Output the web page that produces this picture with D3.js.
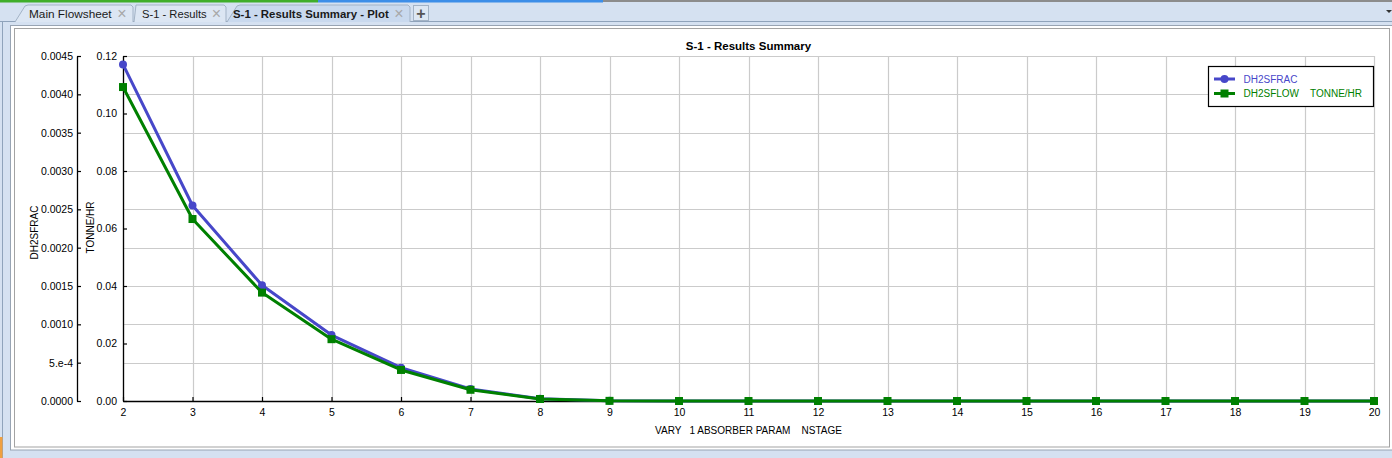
<!DOCTYPE html>
<html>
<head>
<meta charset="utf-8">
<script src="https://cdn.jsdelivr.net/npm/d3@7/dist/d3.min.js"></script>
<style>
  html, body { margin: 0; padding: 0; background: #d5e1f1; }
  svg { display: block; font-family: "Liberation Sans", Arial, sans-serif; }
</style>
</head>
<body>
<svg id="chart" width="1392" height="458"></svg>
<script>
// ---------- data ----------
const stages = [2, 3, 4, 5, 6, 7, 8, 9, 10, 11, 12, 13, 14, 15, 16, 17, 18, 19, 20];
const dh2sfrac = [0.00439, 0.00255, 0.00151, 0.00086, 0.000435, 0.000157, 0.00003, 0.000002, 0, 0, 0, 0, 0, 0, 0, 0, 0, 0, 0];
const dh2sflow = [0.1092, 0.0633, 0.0377, 0.0215, 0.0108, 0.0039, 0.0007, 0.00005, 0, 0, 0, 0, 0, 0, 0, 0, 0, 0, 0];
const leftTicks = [0, 0.0005, 0.0010, 0.0015, 0.0020, 0.0025, 0.0030, 0.0035, 0.0040, 0.0045];
const leftTickLabels = ["0.0000", "5.e-4", "0.0010", "0.0015", "0.0020", "0.0025", "0.0030", "0.0035", "0.0040", "0.0045"];
const rightTicks = [0, 0.02, 0.04, 0.06, 0.08, 0.10, 0.12];
const rightTickLabels = ["0.00", "0.02", "0.04", "0.06", "0.08", "0.10", "0.12"];
const tabs = ["Main Flowsheet", "S-1 - Results", "S-1 - Results Summary - Plot"];
const chartTitle = "S-1 - Results Summary";
const xTitle = "VARY   1 ABSORBER PARAM    NSTAGE";
const leftTitle = "DH2SFRAC";
const rightTitle = "TONNE/HR";
const seriesNames = ["DH2SFRAC", "DH2SFLOW    TONNE/HR"];

const BLUE = "#4747c9", GREEN = "#008000", GRID = "#cbcbcb";

const svg = d3.select("#chart");

// ---------- window chrome ----------
svg.append("rect").attr("x", 0).attr("y", 0).attr("width", 1392).attr("height", 458).attr("fill", "#d5e1f1");
svg.append("rect").attr("x", 0).attr("y", 0).attr("width", 1392).attr("height", 2).attr("fill", "#8c8c8c");
svg.append("rect").attr("x", 0).attr("y", 0).attr("width", 318).attr("height", 2.5).attr("fill", "#3fae2a");
svg.append("rect").attr("x", 318).attr("y", 0).attr("width", 285).attr("height", 2.5).attr("fill", "#3d8ee8");
svg.append("line").attr("x1", 0).attr("x2", 1392).attr("y1", 21.5).attr("y2", 21.5).attr("stroke", "#8fa3bb");
svg.append("line").attr("x1", 2.5).attr("x2", 2.5).attr("y1", 22).attr("y2", 458).attr("stroke", "#8fa3bb");
svg.append("rect").attr("x", 0).attr("y", 437).attr("width", 2.5).attr("height", 21).attr("fill", "#f0a040");

// tabs
const tabG = svg.append("g");
const tabShapes = [
  { x0: 15, x1: 133, active: false },
  { x0: 134, x1: 226, active: false },
  { x0: 227, x1: 410, active: true }
];
tabShapes.forEach((t, i) => {
  const p = d3.path();
  p.moveTo(t.x0, 22);
  if (i === 1) { p.lineTo(t.x0 + 2, 5); } else { p.lineTo(t.x0 + 10, 6); p.lineTo(t.x0 + 13, 5); }
  p.lineTo(t.x1 - 2, 5);
  p.lineTo(t.x1, 7);
  p.lineTo(t.x1, 22);
  tabG.append("path").attr("d", p.toString())
    .attr("fill", t.active ? "#c9d9ee" : "#dce6f3")
    .attr("stroke", "#a3b3c6");
});
const tabTextX = [29, 142, 233];
const tabFontSize = [11.8, 11.2, 11.4];
const closeX = [122, 216.5, 399];
tabs.forEach((t, i) => {
  tabG.append("text").attr("x", tabTextX[i]).attr("y", 17.5)
    .attr("font-size", tabFontSize[i])
    .attr("font-weight", i === 2 ? "bold" : "normal")
    .attr("fill", "#1a1a1a").text(t);
  tabG.append("text").attr("x", closeX[i]).attr("y", 18.5).attr("text-anchor", "middle")
    .attr("font-size", 16).attr("fill", "#a8a8a8").text("\u00d7");
});
tabG.append("rect").attr("x", 413.5).attr("y", 5.5).attr("width", 15).attr("height", 15)
  .attr("fill", "#dde7f3").attr("stroke", "#a3b3c6");
tabG.append("text").attr("x", 421).attr("y", 18.5).attr("text-anchor", "middle")
  .attr("font-size", 16).attr("font-weight", "bold").attr("fill", "#555").text("+");
tabG.append("path").attr("d", "M1386,10 L1392,10 L1389,13 Z").attr("fill", "#333");

// panel frames
svg.append("rect").attr("x", 10.5).attr("y", 25.5).attr("width", 1385).attr("height", 424.5)
  .attr("fill", "#ffffff").attr("stroke", "#98a4b3");
svg.append("rect").attr("x", 14.5).attr("y", 28.5).attr("width", 1375).attr("height", 418.5)
  .attr("fill", "#ffffff").attr("stroke", "#a3a3a3");

// ---------- scales ----------
const x = d3.scaleLinear().domain([2, 20]).range([123, 1374]);
const yL = d3.scaleLinear().domain([0, 0.0045]).range([401, 56]);
const yR = d3.scaleLinear().domain([0, 0.12]).range([401, 56]);

// grid
const grid = svg.append("g");
grid.selectAll("line.h").data(leftTicks).join("line")
  .attr("x1", x(2)).attr("x2", x(20))
  .attr("y1", d => Math.round(yL(d)) + 0.5).attr("y2", d => Math.round(yL(d)) + 0.5)
  .attr("stroke", GRID).attr("stroke-width", 1.2);
grid.selectAll("line.v").data(stages).join("line")
  .attr("x1", d => Math.round(x(d)) + 0.5).attr("x2", d => Math.round(x(d)) + 0.5)
  .attr("y1", yL(0.0045)).attr("y2", yL(0))
  .attr("stroke", GRID).attr("stroke-width", 1.2);

// ---------- axes ----------
function styleAxis(g, size) {
  g.attr("font-family", "\"Liberation Sans\", Arial, sans-serif").attr("font-size", size);
  g.selectAll("path.domain").attr("stroke", "#000").attr("stroke-width", 1.3);
  g.selectAll(".tick line").attr("stroke", "#000").attr("stroke-width", 1.2);
  g.selectAll(".tick text").attr("fill", "#000");
}

const axLeft = svg.append("g").attr("transform", "translate(77,0)")
  .call(d3.axisLeft(yL).tickValues(leftTicks).tickFormat((d, i) => leftTickLabels[i])
    .tickSizeInner(-4).tickSizeOuter(0).tickPadding(4));
styleAxis(axLeft, 10.5);

const axRight = svg.append("g").attr("transform", "translate(123,0)")
  .call(d3.axisLeft(yR).tickValues(rightTicks).tickFormat((d, i) => rightTickLabels[i])
    .tickSizeInner(-4).tickSizeOuter(0).tickPadding(6));
styleAxis(axRight, 10.5);

const axBottom = svg.append("g").attr("transform", "translate(0,401)")
  .call(d3.axisBottom(x).tickValues(stages).tickFormat(d3.format("d"))
    .tickSizeInner(-4).tickSizeOuter(0).tickPadding(8));
styleAxis(axBottom, 10.5);

// titles
svg.append("text").attr("x", x(11)).attr("y", 50).attr("text-anchor", "middle")
  .attr("font-size", 11.5).attr("font-weight", "bold").attr("fill", "#000").text(chartTitle);
svg.append("text").attr("x", x(11)).attr("y", 434).attr("text-anchor", "middle")
  .attr("font-size", 10).attr("fill", "#000").style("white-space", "pre").text(xTitle);
svg.append("text").attr("transform", "translate(37.7,232.5) rotate(-90)").attr("text-anchor", "middle")
  .attr("font-size", 10).attr("fill", "#000").text(leftTitle);
svg.append("text").attr("transform", "translate(94,227.5) rotate(-90)").attr("text-anchor", "middle")
  .attr("font-size", 10).attr("fill", "#000").text(rightTitle);

// ---------- series ----------
const blueData = stages.map((s, i) => [s, dh2sfrac[i]]);
const greenData = stages.map((s, i) => [s, dh2sflow[i]]);

svg.append("path").datum(blueData)
  .attr("d", d3.line().x(d => x(d[0])).y(d => yL(d[1])))
  .attr("fill", "none").attr("stroke", BLUE).attr("stroke-width", 3).attr("stroke-linejoin", "round");
svg.selectAll("circle.b").data(blueData).join("circle")
  .attr("cx", d => x(d[0])).attr("cy", d => yL(d[1])).attr("r", 4).attr("fill", BLUE);

svg.append("path").datum(greenData)
  .attr("d", d3.line().x(d => x(d[0])).y(d => yR(d[1])))
  .attr("fill", "none").attr("stroke", GREEN).attr("stroke-width", 3).attr("stroke-linejoin", "round");
svg.selectAll("rect.g").data(greenData).join("rect")
  .attr("x", d => x(d[0]) - 4).attr("y", d => yR(d[1]) - 4).attr("width", 8).attr("height", 8).attr("fill", GREEN);

// ---------- legend ----------
const lg = svg.append("g");
lg.append("rect").attr("x", 1208.5).attr("y", 66.5).attr("width", 165).attr("height", 40)
  .attr("fill", "#fff").attr("stroke", "#000").attr("stroke-width", 1.2);
lg.append("line").attr("x1", 1214).attr("x2", 1235).attr("y1", 79).attr("y2", 79)
  .attr("stroke", BLUE).attr("stroke-width", 3);
lg.append("circle").attr("cx", 1224.5).attr("cy", 79).attr("r", 4).attr("fill", BLUE);
lg.append("line").attr("x1", 1214).attr("x2", 1235).attr("y1", 93.5).attr("y2", 93.5)
  .attr("stroke", GREEN).attr("stroke-width", 3);
lg.append("rect").attr("x", 1220.5).attr("y", 89.5).attr("width", 8).attr("height", 8).attr("fill", GREEN);
lg.append("text").attr("x", 1243.5).attr("y", 82.5).attr("font-size", 10).attr("fill", BLUE)
  .style("white-space", "pre").text(seriesNames[0]);
lg.append("text").attr("x", 1243.5).attr("y", 97).attr("font-size", 10).attr("fill", GREEN)
  .style("white-space", "pre").text(seriesNames[1]);
</script>
</body>
</html>
